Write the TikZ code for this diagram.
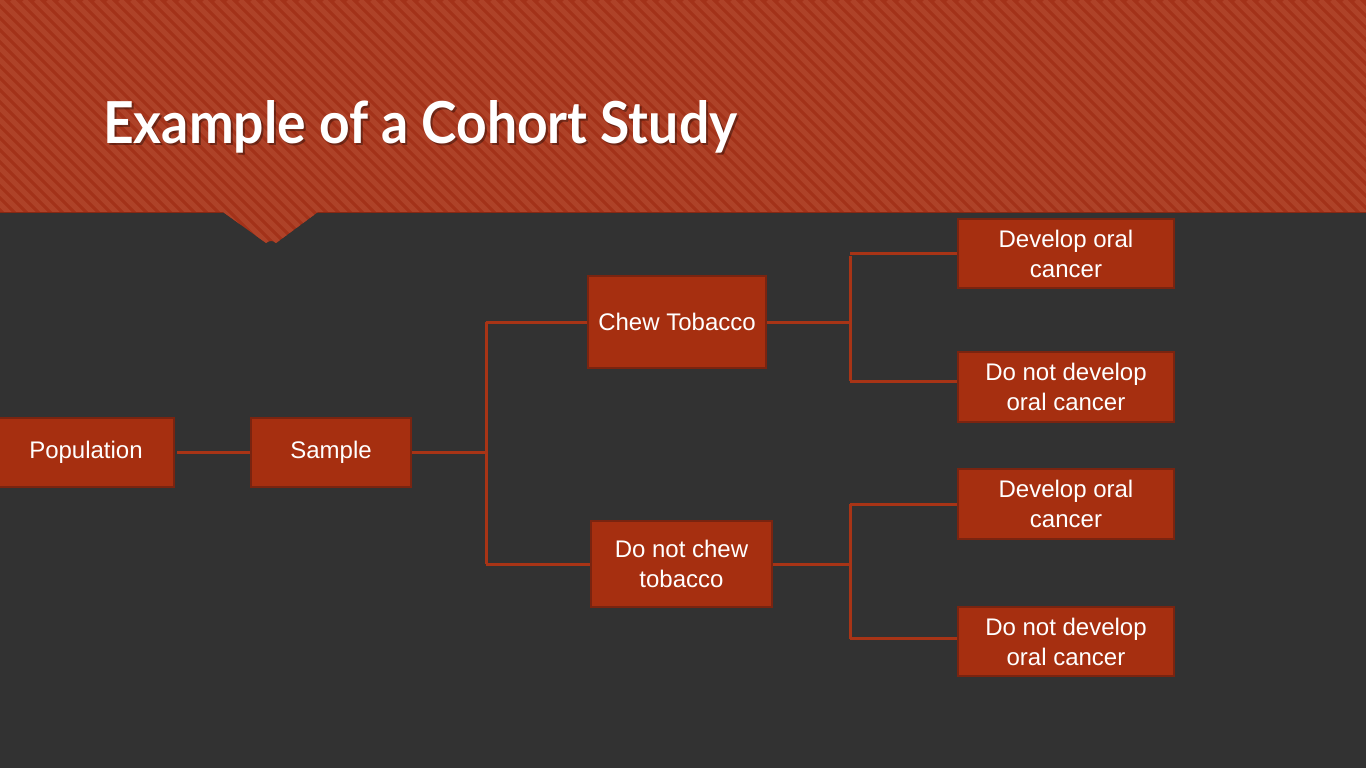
\documentclass[tikz,border=0pt]{standalone}
\usepackage{fontspec}
\setmainfont{Liberation Sans}
\newfontfamily\titlefont{Lato}
\usetikzlibrary{calc}
\definecolor{bgdark}{HTML}{323232}
\definecolor{boxfill}{HTML}{A62F10}
\definecolor{boxedge}{HTML}{7A2410}
\definecolor{linecol}{HTML}{A83416}
\definecolor{hdrbase}{HTML}{A33219}
\definecolor{hdrlight}{HTML}{AE4228}
\tikzset{
  box/.style={draw=boxedge, line width=2pt, fill=boxfill, text=white,
    font=\fontsize{24}{30}\selectfont, align=center, inner sep=0pt, anchor=north west},
  conn/.style={draw=linecol, line width=3pt}
}
\begin{document}
\begin{tikzpicture}[x=1pt,y=-1pt]
\fill[bgdark] (0,0) rectangle (1366,768);
\useasboundingbox (0,0) rectangle (1366,768);
% header
\begin{scope}
\clip (0,0) -- (1366,0) -- (1366,212) -- (318,212) -- (276,243) arc[start angle=-45,end angle=-135,radius=7] -- (223,212) -- (0,212) -- cycle;
\fill[hdrbase] (0,0) rectangle (1366,260);
\foreach \x in {-300,-288,...,1370} {
  \draw[hdrlight, line width=5pt] (\x,0) -- ++(300,300);
}
\end{scope}
\draw[boxedge!70!hdrbase, line width=1pt] (0,212) -- (223,212);
\draw[boxedge!70!hdrbase, line width=1pt] (318,212) -- (1366,212);
% title
\node[anchor=base west, text=black, opacity=0.35, inner sep=0pt] (titleshadow) at (105,145) {\resizebox{634pt}{43pt}{\titlefont\bfseries\fontsize{56}{60}\selectfont Example of a Cohort Study}};
\node[anchor=base west, text=white, inner sep=0pt] (title) at (103,143) {\resizebox{634pt}{43pt}{\titlefont\bfseries\fontsize{56}{60}\selectfont Example of a Cohort Study}};
% boxes
\node[box, minimum width=180pt, minimum height=69pt] (pop) at (-7,417) {\hspace*{4pt}Population};
\node[box, minimum width=160pt, minimum height=69pt] (samp) at (250,417) {Sample};
\node[box, minimum width=178pt, minimum height=92pt] (chew) at (587,275) {Chew Tobacco};
\node[box, minimum width=181pt, minimum height=86pt] (nochew) at (590,520) {Do not chew\\tobacco};
\node[box, minimum width=216pt, minimum height=69pt] (d1) at (957,218) {Develop oral\\cancer};
\node[box, minimum width=216pt, minimum height=70pt] (n1) at (957,351) {Do not develop\\oral cancer};
\node[box, minimum width=216pt, minimum height=70pt] (d2) at (957,468) {Develop oral\\cancer};
\node[box, minimum width=216pt, minimum height=69pt] (n2) at (957,606) {Do not develop\\oral cancer};
% connector anchors
\coordinate (n1in) at ([yshift=6pt]n1.west);
\coordinate (n2in) at ([yshift=3pt]n2.west);
% connectors
\draw[conn] ([xshift=2pt]pop.east) -- (samp.west);
\draw[conn] (samp.east) -- ++(74,0) coordinate (j0);
\coordinate (j0t) at (j0 |- chew.west);
\coordinate (j0b) at (j0 |- nochew.west);
\draw[conn] (chew.west) -- (j0t);
\draw[conn] (nochew.west) -- (j0b);
\draw[conn] (j0t) -- (j0b);
\draw[conn] (chew.east) -- ++(83,0) coordinate (j1);
\coordinate (j1t) at (j1 |- d1.west);
\coordinate (j1b) at (j1 |- n1in);
\draw[conn] (d1.west) -- (j1t);
\draw[conn] (n1in) -- (j1b);
\draw[conn] ([yshift=-2pt]j1t) -- (j1b);
\draw[conn] (nochew.east) -- ++(77,0) coordinate (j2);
\coordinate (j2t) at (j2 |- d2.west);
\coordinate (j2b) at (j2 |- n2in);
\draw[conn] (d2.west) -- (j2t);
\draw[conn] (n2in) -- (j2b);
\draw[conn] (j2t) -- (j2b);
\end{tikzpicture}
\end{document}
